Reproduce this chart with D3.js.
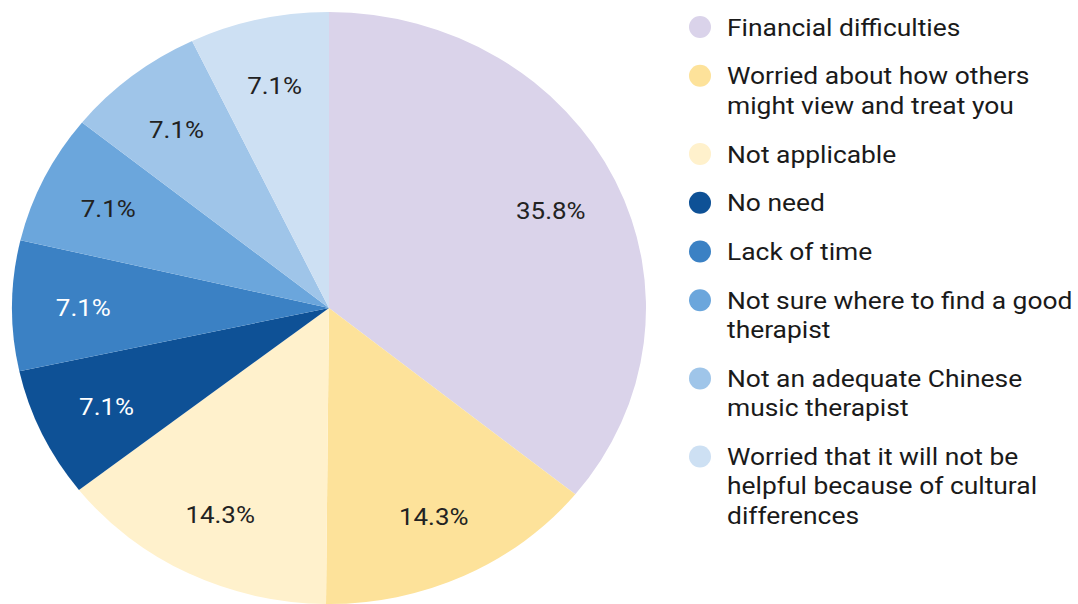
<!DOCTYPE html>
<html>
<head>
<meta charset="utf-8">
<script src="https://cdn.jsdelivr.net/npm/d3@7"></script>
<style>
  body { margin: 0; background: #fff; }
  svg { display: block; font-family: Roboto, "Noto Sans", sans-serif; }
</style>
</head>
<body>
<script>
const w = 1078;
const h = 604;

const categories = [
  "Financial difficulties",
  "Worried about how others might view and treat you",
  "Not applicable",
  "No need",
  "Lack of time",
  "Not sure where to find a good therapist",
  "Not an adequate Chinese music therapist",
  "Worried that it will not be helpful because of cultural differences"
];
const values = [35.8, 14.3, 14.3, 7.1, 7.1, 7.1, 7.1, 7.1];
const labels = ["35.8%", "14.3%", "14.3%", "7.1%", "7.1%", "7.1%", "7.1%", "7.1%"];
const colors = ["#dad3ea", "#fde29a", "#fff1cc", "#0e5196", "#3b81c4", "#6ba6dc", "#9fc5e9", "#cde0f3"];
const labelColors = ["#222", "#222", "#222", "#fff", "#fff", "#222", "#222", "#222"];
const legendLines = [
  ["Financial difficulties"],
  ["Worried about how others", "might view and treat you"],
  ["Not applicable"],
  ["No need"],
  ["Lack of time"],
  ["Not sure where to find a good", "therapist"],
  ["Not an adequate Chinese", "music therapist"],
  ["Worried that it will not be", "helpful because of cultural", "differences"]
];

const cx = 329, cy = 308;
const rx = 317, ry = 296;
const stretch = 1.08; // picture is a little wider than tall

const svg = d3.select("body").append("svg")
  .attr("width", w)
  .attr("height", h);

const pie = d3.pie().sort(null).value((d) => d);
const arcs = pie(values);
const arc = d3.arc().innerRadius(0).outerRadius(rx);

svg.append("g")
  .attr("transform", "translate(" + cx + "," + cy + ") scale(1," + (ry / rx) + ")")
  .selectAll("path")
  .data(arcs)
  .enter()
  .append("path")
  .attr("d", arc)
  .attr("fill", (d, i) => colors[i]);

const labelArc = d3.arc().innerRadius(rx * 0.775).outerRadius(rx * 0.775);
svg.append("g")
  .selectAll("text")
  .data(arcs)
  .enter()
  .append("text")
  .attr("transform", (d) => {
    const c = labelArc.centroid(d);
    return "translate(" + (cx + c[0]) + "," + (cy + 1 + c[1] * ry / rx) + ") scale(" + stretch + ",1)";
  })
  .attr("text-anchor", "middle")
  .attr("dy", "0.36em")
  .attr("font-size", 24)
  .attr("fill", (d, i) => labelColors[i])
  .text((d, i) => labels[i]);

// legend
const lineH = 29.3;
const itemGap = 19.5;
let y = 27;
const legend = svg.append("g");
legendLines.forEach((lines, i) => {
  legend.append("circle")
    .attr("cx", 700)
    .attr("cy", y)
    .attr("r", 11)
    .attr("fill", colors[i]);
  const t = legend.append("text")
    .attr("transform", "translate(727," + y + ") scale(1.1,1)")
    .attr("font-size", 24)
    .attr("fill", "#1a1a1a");
  lines.forEach((l, j) => {
    t.append("tspan")
      .attr("x", 0)
      .attr("y", j * lineH)
      .attr("dy", "0.36em")
      .text(l);
  });
  y += lines.length * lineH + itemGap;
});
</script>
</body>
</html>
